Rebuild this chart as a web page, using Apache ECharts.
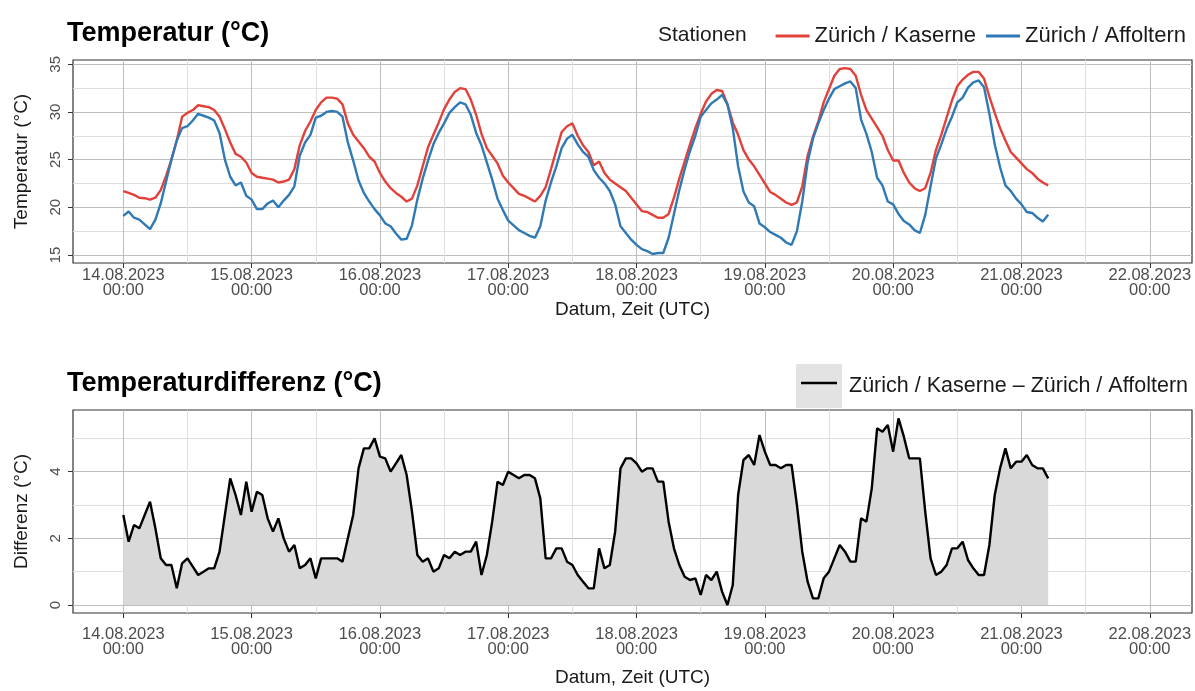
<!DOCTYPE html>
<html><head><meta charset="utf-8">
<script src="https://cdn.jsdelivr.net/npm/echarts@6.0.0/dist/echarts.min.js"></script>
<style>html,body{margin:0;padding:0;background:#fff}#c{width:1195px;height:691px}</style>
</head><body><div id="c"></div>
<script>
// Tick labels (x axis: one per day at 00:00 UTC)
const dayLabels = ['14.08.2023','15.08.2023','16.08.2023','17.08.2023','18.08.2023','19.08.2023','20.08.2023','21.08.2023','22.08.2023'];
const tempTicks = [15, 20, 25, 30, 35];
const diffTicks = [0, 2, 4];
const seriesNames = ['Zürich / Kaserne', 'Zürich / Affoltern'];
const diffName = 'Zürich / Kaserne – Zürich / Affoltern';

// Hourly values from 14.08.2023 00:00 UTC
const kaserne = [21.7,21.5,21.3,21.0,20.95,20.8,21.0,21.8,23.3,25.0,
27.0,29.5,29.9,30.2,30.7,30.6,30.5,30.2,29.5,28.2,
26.8,25.6,25.3,24.7,23.6,23.2,23.1,23.0,22.9,22.6,
22.7,22.9,24.0,26.5,28.0,29.0,30.2,31.0,31.5,31.5,
31.4,30.8,28.8,27.6,26.9,26.2,25.3,24.8,23.6,22.7,
22.0,21.5,21.1,20.6,20.9,22.3,24.3,26.3,27.6,28.9,
30.3,31.3,32.1,32.5,32.4,31.3,29.7,27.7,26.2,25.4,
24.6,23.3,22.6,22.0,21.4,21.2,20.9,20.6,21.2,22.1,
24.0,26.0,27.9,28.5,28.8,27.5,26.5,25.8,24.4,24.8,
23.6,22.9,22.5,22.1,21.7,21.0,20.3,19.6,19.5,19.2,
18.9,18.9,19.3,21.0,23.0,24.8,26.6,28.3,29.8,31.1,
31.9,32.3,32.2,30.8,28.9,27.6,26.0,25.0,24.3,23.4,
22.5,21.6,21.3,20.9,20.5,20.25,20.5,22.2,25.4,27.4,
29.0,31.0,32.4,33.8,34.5,34.6,34.5,33.8,31.8,30.2,
29.3,28.4,27.5,26.0,24.9,24.9,23.6,22.6,22.0,21.7,
22.0,23.6,26.0,27.6,29.4,31.2,32.7,33.4,33.9,34.2,
34.2,33.5,31.6,29.9,28.3,27.0,25.8,25.2,24.6,24.0,
23.6,23.0,22.6,22.3];
const affoltern = [19.1,19.55,18.9,18.7,18.2,17.7,18.7,20.4,22.7,25.0,
27.0,28.3,28.5,29.1,29.8,29.6,29.4,29.1,27.8,25.0,
23.2,22.3,22.6,21.2,20.8,19.8,19.8,20.4,20.7,20.0,
20.7,21.3,22.2,25.4,26.8,27.6,29.4,29.6,30.0,30.1,
30.0,29.5,26.8,24.9,22.8,21.5,20.6,19.8,19.15,18.3,
18.0,17.25,16.6,16.7,18.1,20.8,23.0,24.9,26.6,27.8,
28.8,29.9,30.5,31.0,30.8,29.7,27.8,26.5,24.7,22.9,
20.9,19.7,18.6,18.1,17.6,17.3,17.0,16.8,18.0,20.7,
22.6,24.3,26.2,27.2,27.6,26.6,25.8,25.3,23.9,23.1,
22.5,21.7,20.3,18.0,17.3,16.6,16.05,15.6,15.4,15.1,
15.2,15.2,16.8,19.3,21.8,24.0,25.9,27.5,29.5,30.2,
30.9,31.3,31.8,30.8,28.3,24.3,21.65,20.5,20.1,18.3,
17.9,17.4,17.1,16.8,16.3,16.05,17.5,20.6,24.7,27.2,
28.8,30.2,31.4,32.4,32.7,33.0,33.2,32.5,29.2,27.7,
25.8,23.1,22.3,20.6,20.3,19.3,18.55,18.2,17.6,17.3,
19.2,22.2,25.1,26.6,28.2,29.5,31.0,31.5,32.55,33.1,
33.3,32.6,29.8,26.6,24.2,22.3,21.7,20.9,20.3,19.5,
19.4,18.9,18.5,19.2];
const differenz = [2.7,1.9,2.4,2.3,2.7,3.1,2.3,1.4,1.2,1.2,
0.5,1.25,1.4,1.15,0.9,1.0,1.1,1.1,1.6,2.7,
3.8,3.3,2.7,3.7,2.8,3.4,3.3,2.6,2.2,2.6,
2.0,1.6,1.8,1.1,1.2,1.4,0.8,1.4,1.4,1.4,
1.4,1.3,2.0,2.7,4.1,4.7,4.7,5.0,4.45,4.4,
4.0,4.25,4.5,3.9,2.8,1.5,1.3,1.4,1.0,1.1,
1.5,1.4,1.6,1.5,1.6,1.6,1.9,0.9,1.5,2.5,
3.7,3.6,4.0,3.9,3.8,3.9,3.9,3.8,3.2,1.4,
1.4,1.7,1.7,1.3,1.2,0.9,0.7,0.5,0.5,1.7,
1.1,1.2,2.2,4.1,4.4,4.4,4.25,4.0,4.1,4.1,
3.7,3.7,2.5,1.7,1.2,0.85,0.75,0.8,0.3,0.9,
0.75,1.0,0.4,0.0,0.6,3.3,4.35,4.5,4.2,5.1,
4.6,4.2,4.2,4.1,4.2,4.2,3.0,1.6,0.7,0.2,
0.2,0.8,1.0,1.4,1.8,1.6,1.3,1.3,2.6,2.5,
3.5,5.3,5.2,5.4,4.6,5.6,5.05,4.4,4.4,4.4,
2.8,1.4,0.9,1.0,1.2,1.7,1.7,1.9,1.35,1.1,
0.9,0.9,1.8,3.3,4.1,4.7,4.1,4.3,4.3,4.5,
4.2,4.1,4.1,3.8];

const FONT = 'Liberation Sans, Arial, sans-serif';
const RED = '#e2413a', BLUE = '#2f79b5';
const toPairs = arr => arr.map((v, i) => [i, v]);
const dayTickHours = dayLabels.map((d, i) => i * 24);

function xAx(gi, labelMargin, nameGap) {
  return {
    type: 'value', gridIndex: gi, min: -9.41, max: 199.9, minInterval: 24, maxInterval: 24,
    axisLine: { show: false, onZero: false },
    axisTick: { show: true, length: 5, lineStyle: { color: '#333', width: 1 }, customValues: dayTickHours },
    axisLabel: {
      customValues: dayTickHours,
      formatter: v => { if (Math.abs(v % 24) > 1e-6) return ''; const i = Math.round(v / 24); return dayLabels[i] ? dayLabels[i] + '\n00:00' : ''; },
      color: '#4d4d4d', fontSize: 16.5, lineHeight: 15, margin: labelMargin, fontFamily: FONT
    },
    splitLine: { show: true, lineStyle: { color: '#bdbdbd', width: 1 } },
    minorTick: { show: false, splitNumber: 2 },
    minorSplitLine: { show: true, lineStyle: { color: '#dedede', width: 1 } },
    name: 'Datum, Zeit (UTC)', nameLocation: 'middle', nameGap: nameGap,
    nameTextStyle: { fontSize: 19, color: '#1a1a1a', fontFamily: FONT }
  };
}
function yAx(gi, min, max, step, ticks, name) {
  return {
    type: 'value', gridIndex: gi, min: min, max: max, minInterval: step, maxInterval: step,
    axisLine: { show: false, onZero: false },
    axisTick: { show: true, length: 5, lineStyle: { color: '#333', width: 1 }, customValues: ticks },
    axisLabel: { customValues: ticks, rotate: 90, color: '#4d4d4d', fontSize: 15, margin: 10, fontFamily: FONT },
    splitLine: { show: true, lineStyle: { color: '#bdbdbd', width: 1 } },
    minorTick: { show: false, splitNumber: 2 },
    minorSplitLine: { show: true, lineStyle: { color: '#dedede', width: 1 } },
    name: name, nameLocation: 'middle', nameGap: 42, nameRotate: 90,
    nameTextStyle: { fontSize: 19, color: '#1a1a1a', fontFamily: FONT }
  };
}

const chart = echarts.init(document.getElementById('c'), null, { renderer: 'canvas' });
chart.setOption({
  animation: false,
  backgroundColor: '#fff',
  textStyle: { fontFamily: FONT },
  title: [
    { text: 'Temperatur (°C)', left: 62, top: 15, textStyle: { fontSize: 27, fontWeight: 'bold', color: '#000', fontFamily: FONT } },
    { text: 'Temperaturdifferenz (°C)', left: 62, top: 365, textStyle: { fontSize: 27, fontWeight: 'bold', color: '#000', fontFamily: FONT } },
    { text: 'Stationen', left: 653, top: 20, textStyle: { fontSize: 21, fontWeight: 'normal', color: '#1a1a1a', fontFamily: FONT } }
  ],
  legend: [
    { data: seriesNames, right: 4, top: 20, icon: 'rect', itemWidth: 34, itemHeight: 3, itemGap: 10,
      textStyle: { fontSize: 22, color: '#1a1a1a', fontFamily: FONT } },
    { data: [{ name: diffName, icon: 'none' }], right: 2, top: 370, itemWidth: 0, itemHeight: 3,
      textStyle: { fontSize: 21.5, color: '#1a1a1a', fontFamily: FONT } }
  ],
  graphic: [
    { type: 'rect', left: 796, top: 364, shape: { width: 46, height: 44 }, style: { fill: '#e3e3e3' }, z: -1 },
    { type: 'line', shape: { x1: 801, y1: 383, x2: 837, y2: 383 }, style: { stroke: '#000', lineWidth: 2.6 } }
  ],
  grid: [
    { left: 73, top: 60, width: 1119, height: 203, show: true, borderColor: '#333', borderWidth: 1.2 },
    { left: 73, top: 410, width: 1119, height: 203, show: true, borderColor: '#333', borderWidth: 1.2 }
  ],
  xAxis: [xAx(0, 5, 33), xAx(1, 14, 55)],
  yAxis: [
    yAx(0, 14.15, 35.45, 5, tempTicks, 'Temperatur (°C)'),
    yAx(1, -0.24, 5.85, 2, diffTicks, 'Differenz (°C)')
  ],
  series: [
    { name: seriesNames[0], type: 'line', xAxisIndex: 0, yAxisIndex: 0, data: toPairs(kaserne),
      showSymbol: false, color: RED, lineStyle: { color: RED, width: 2.4 } },
    { name: seriesNames[1], type: 'line', xAxisIndex: 0, yAxisIndex: 0, data: toPairs(affoltern),
      showSymbol: false, color: BLUE, lineStyle: { color: BLUE, width: 2.4 } },
    { name: diffName, type: 'line', xAxisIndex: 1, yAxisIndex: 1, data: toPairs(differenz),
      showSymbol: false, color: '#000', lineStyle: { color: '#000', width: 2.4 },
      areaStyle: { color: '#d9d9d9', opacity: 1, origin: 0 } }
  ]
});
</script></body></html>
